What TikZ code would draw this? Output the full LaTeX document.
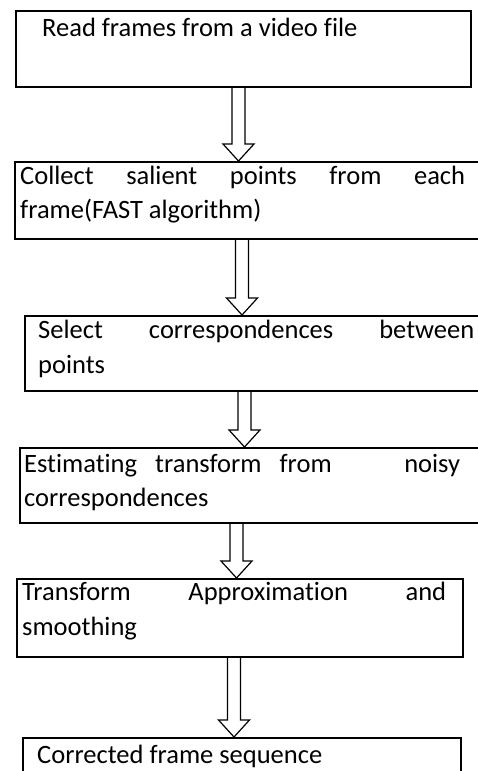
\documentclass[tikz,border=0pt]{standalone}
\usepackage{fontspec}
\setmainfont{Carlito}[Ligatures={NoCommon}]
\usetikzlibrary{calc}
\tikzset{
  box/.style={draw=black, line width=1.7pt, rectangle, inner sep=0pt, anchor=north west},
  txt/.style={inner sep=0pt, anchor=base west, font=\fontsize{26.5}{34}\selectfont},
  arrowline/.style={draw=black, line width=1.2pt, line join=miter},
}
\newcommand\blockarrow[3]{%
  \draw[arrowline] let \p1=(#1), \p2=(#2) in
  (#3pt-6.5pt,\y1) -- (#3pt-6.5pt,\y2+17pt) -- (#3pt-15.5pt,\y2+17pt) -- (#3pt,\y2)
  -- (#3pt+15.5pt,\y2+17pt) -- (#3pt+6.5pt,\y2+17pt) -- (#3pt+6.5pt,\y1);}
\begin{document}
\begin{tikzpicture}[x=1pt,y=1pt]
\useasboundingbox (0,0) rectangle (477,-771);
% boxes
\node[box, minimum width=455pt, minimum height=76pt] (b1) at (15,-10) {};
\node[box, minimum width=476pt, minimum height=77pt] (b2) at (14,-161) {};
\node[box, minimum width=466pt, minimum height=75pt] (b3) at (24,-315) {};
\node[box, minimum width=471pt, minimum height=75pt] (b4) at (19,-447) {};
\node[box, minimum width=446pt, minimum height=78pt] (b5) at (16,-578) {};
\node[box, minimum width=438pt, minimum height=60pt] (b6) at (22,-737) {};
% texts
\node[txt] (t1) at (42,-36) {Read frames from a video file};
\node[txt] (t2a) at (20,-184) {\makebox[445pt][s]{Collect salient points from each}};
\node[txt] (t2b) at (20,-218) {frame(FAST algorithm)};
\node[txt] (t3a) at (38,-338) {\makebox[436pt][s]{Select correspondences between}};
\node[txt] (t3b) at (38,-373) {points};
\node[txt] (t4a) at (24,-472) {\makebox[436pt][s]{Estimating transform from\ \ \ \ noisy}};
\node[txt] (t4b) at (24,-506) {correspondences};
\node[txt] (t5a) at (22,-600) {\makebox[424pt][s]{Transform Approximation and}};
\node[txt] (t5b) at (22,-635) {smoothing};
\node[txt] (t6) at (37,-763) {Corrected frame sequence};
% arrows
\blockarrow{b1.south}{b2.north}{238.5}
\blockarrow{b2.south}{b3.north}{242}
\blockarrow{b3.south}{b4.north}{244.5}
\blockarrow{b4.south}{b5.north}{236.5}
\blockarrow{b5.south}{b6.north}{234}
\end{tikzpicture}
\end{document}
